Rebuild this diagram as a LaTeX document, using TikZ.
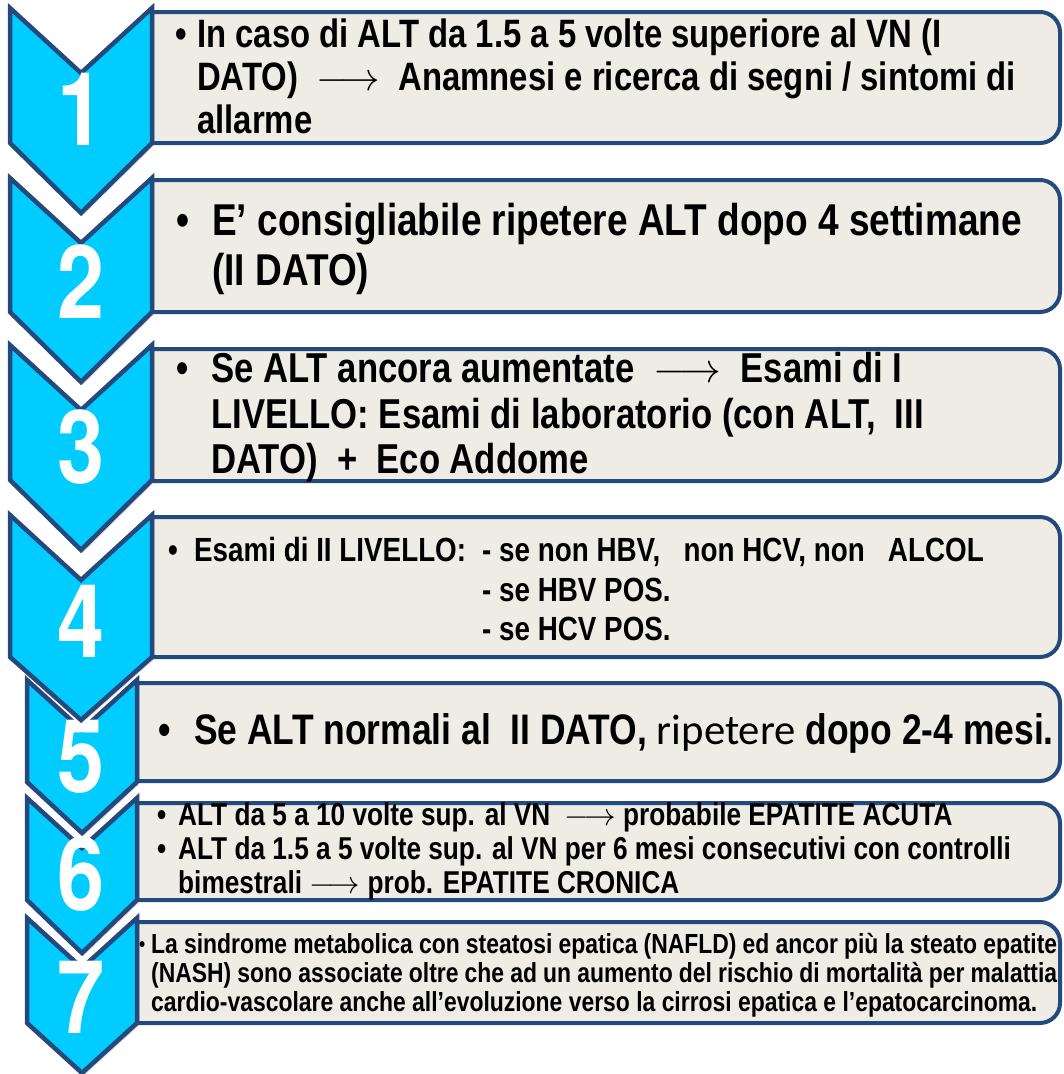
\RequirePackage{fix-cm}
\documentclass[tikz,border=0pt]{standalone}
\usepackage{graphicx}
\usepackage{fontspec}
\usetikzlibrary{shadows}
\newfontfamily\narrowfont[FakeStretch=0.83]{Liberation Sans}
\newfontfamily\herosfont{TeX Gyre Heros}
\newfontfamily\calfont{Carlito}
\definecolor{chevfill}{RGB}{0,204,255}
\definecolor{edgeblue}{RGB}{36,73,125}
\definecolor{boxfill}{RGB}{238,236,229}
\tikzset{
  boxst/.style={fill=boxfill, draw=edgeblue, line width=4pt},
  chevst/.style={fill=chevfill, draw=edgeblue, line width=4.5pt, line join=miter,
    drop shadow={shadow xshift=1.5pt, shadow yshift=-3pt, opacity=0.3}},
  bignum/.style={text=white, inner sep=0pt, anchor=base},
  txt/.style={inner sep=0pt, anchor=base west, text=black},
  fa/.style={font=\narrowfont\bfseries\fontsize{39.6}{44}\selectfont},
  fb/.style={font=\narrowfont\bfseries\fontsize{44.6}{50}\selectfont},
  fc/.style={font=\narrowfont\bfseries\fontsize{41.8}{46}\selectfont},
  fd/.style={font=\narrowfont\bfseries\fontsize{33.5}{40}\selectfont},
  fe/.style={font=\narrowfont\bfseries\fontsize{42.7}{46}\selectfont},
  ff/.style={font=\narrowfont\bfseries\fontsize{31.6}{34}\selectfont},
  fg/.style={font=\narrowfont\bfseries\fontsize{27.6}{29}\selectfont},
  fgb/.style={font=\narrowfont\bfseries\fontsize{21}{29}\selectfont},
}
\newcommand\numtxt[1]{\scalebox{0.83}[1]{\herosfont\bfseries\fontsize{102}{102}\selectfont #1}}
\newcommand\infobox[3]{%
  \path[boxst] (#1,#2) -- (1040,#2) .. controls (1051,#2) and (1060,#2+9) .. (1060,#2+20)
    -- (1060,#3-20) .. controls (1060,#3-9) and (1051,#3) .. (1040,#3) -- (#1,#3) -- cycle;}
\newcommand\chevron[6]{%
  \path[chevst] (#1-#2,#3) -- (#1,#3+#4) -- (#1+#2,#3) -- (#1+#2,#5) -- (#1,#6) -- (#1-#2,#5) -- cycle;}
\begin{document}
\begin{tikzpicture}[x=1pt,y=-1pt]
\useasboundingbox (0,0) rectangle (1064,1074);
% boxes
\infobox{152}{12}{143}
\infobox{152}{180}{312}
\infobox{152}{349}{481}
\infobox{152}{517}{657}
\infobox{137}{683}{781}
\infobox{137}{803}{900}
\infobox{137}{922}{1023}
% chevrons (bottom first)
\chevron{82}{55}{918}{50}{1023}{1073}
\node[bignum] (n7) at (81,1033) {\numtxt{7}};
\chevron{82}{55}{798}{50}{900}{953}
\node[bignum] (n6) at (81,910) {\numtxt{6}};
\chevron{82}{55}{680}{50}{782}{833}
\node[bignum] (n5) at (81,792) {\numtxt{5}};
\chevron{81}{71}{515}{65}{657}{720}
\node[bignum] (n4) at (81,657) {\numtxt{4}};
\chevron{81}{71}{345}{65}{480}{550}
\node[bignum] (n3) at (81,483) {\numtxt{3}};
\chevron{81}{71}{178}{65}{312}{382}
\node[bignum] (n2) at (81,318) {\numtxt{2}};
\chevron{81}{71}{8}{65}{143}{213}
\node[bignum] (n1) at (81,145) {\numtxt{1}};
% box 1
\node[txt,fa] (b1u) at (175,47) {•};
\node[txt,fa] (b1a) at (197,47) {In caso di ALT da 1.5 a 5 volte superiore al VN (I};
\node[txt,fa] (b1b) at (197,90) {DATO)\ \ $\longrightarrow$\ \ Anamnesi e ricerca di segni / sintomi di};
\node[txt,fa] (b1c) at (197,133) {allarme};
% box 2
\node[txt,fb] (b2u) at (176,235) {•};
\node[txt,fb] (b2a) at (212,235) {E’ consigliabile ripetere ALT dopo 4 settimane};
\node[txt,fb] (b2b) at (212,285) {(II DATO)};
% box 3
\node[txt,fc] (b3u) at (176,382) {•};
\node[txt,fc] (b3a) at (211,382) {Se ALT ancora aumentate\ \ $\longrightarrow$\ \ Esami di I};
\node[txt,fc] (b3b) at (211,428) {LIVELLO: Esami di laboratorio (con ALT,\ \ III};
\node[txt,fc] (b3c) at (211,473) {DATO)\ \ +\ \ Eco Addome};
% box 4
\node[txt,fd] (b4u) at (168,561) {•};
\node[txt,fd] (b4a) at (194,561) {Esami di II LIVELLO:};
\node[txt,fd] (b4b) at (482,561) {- se non HBV,\ \ \ non HCV, non\ \ \ ALCOL};
\node[txt,fd] (b4c) at (482,601) {- se HBV POS.};
\node[txt,fd] (b4d) at (482,640) {- se HCV POS.};
% box 5
\node[txt,fe] (b5u) at (158,744) {•};
\node[txt,fe] (b5a) at (194,744) {Se ALT normali al\ \ II DATO, {\calfont\mdseries ripetere} dopo 2-4 mesi.};
% box 6
\node[txt,ff] (b6u) at (157,825) {•};
\node[txt,ff] (b6a) at (178,825) {ALT da 5 a 10 volte sup. al VN\ \ $\longrightarrow$ probabile EPATITE ACUTA};
\node[txt,ff] (b6v) at (157,859) {•};
\node[txt,ff] (b6b) at (178,859) {ALT da 1.5 a 5 volte sup. al VN per 6 mesi consecutivi con controlli};
\node[txt,ff] (b6c) at (178,893) {bimestrali $\longrightarrow$ prob. EPATITE CRONICA};
% box 7
\node[txt,fgb] (b7u) at (139,951) {•};
\node[txt,fg] (b7a) at (151,953) {\makebox[906pt][s]{La sindrome metabolica con steatosi epatica (NAFLD) ed ancor più la steato epatite}};
\node[txt,fg] (b7b) at (151,982) {\makebox[906pt][s]{(NASH) sono associate oltre che ad un aumento del rischio di mortalità per malattia}};
\node[txt,fg] (b7c) at (151,1011) {cardio-vascolare anche all’evoluzione verso la cirrosi epatica e l’epatocarcinoma.};
\end{tikzpicture}
\end{document}
